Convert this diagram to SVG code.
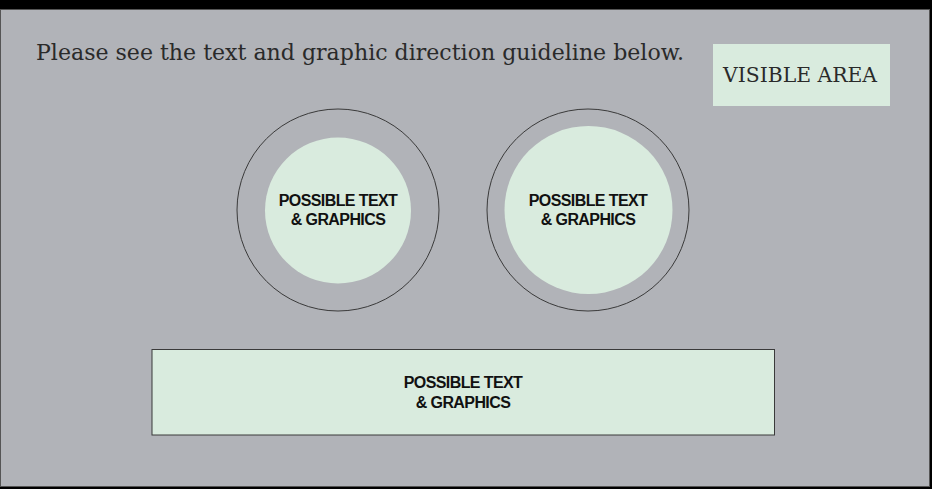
<svg xmlns="http://www.w3.org/2000/svg" width="932" height="489" viewBox="0 0 932 489">
<style>
.fill{fill:#d9ebde}
.ring{fill:none;stroke:#3a3a3a;stroke-width:1}
.lbl{font-family:"Liberation Sans",Arial,sans-serif;font-size:16px;font-weight:bold;fill:#111;text-anchor:middle;letter-spacing:-0.6px}
.slab{font-family:"DejaVu Serif","Liberation Serif",serif;fill:#2a2a2a}
</style>
<rect x="0" y="0" width="932" height="489" fill="#000"/>
<rect x="0.5" y="9.5" width="929" height="477" fill="#b1b3b8" stroke="#555" stroke-width="1"/>
<g id="title">
<text class="slab" x="36" y="60" font-size="22" textLength="648" lengthAdjust="spacingAndGlyphs">Please see the text and graphic direction guideline below.</text>
</g>
<g id="visible-area">
<rect class="fill" x="713" y="44" width="177" height="62"/>
<text class="slab" x="723" y="82" font-size="21" fill="#111" textLength="154" lengthAdjust="spacingAndGlyphs">VISIBLE AREA</text>
</g>
<g id="circle-left">
<circle class="ring" cx="338" cy="210" r="101"/>
<circle class="fill" cx="338" cy="210.5" r="73"/>
<text class="lbl" x="338" y="206">POSSIBLE TEXT</text>
<text class="lbl" x="338" y="225">&amp; GRAPHICS</text>
</g>
<g id="circle-right">
<circle class="ring" cx="588" cy="210" r="101"/>
<circle class="fill" cx="588.5" cy="210" r="84"/>
<text class="lbl" x="588" y="206">POSSIBLE TEXT</text>
<text class="lbl" x="588" y="225">&amp; GRAPHICS</text>
</g>
<g id="banner">
<rect class="fill" x="152" y="349.5" width="622.5" height="85.5" stroke="#3a3a3a" stroke-width="1"/>
<text class="lbl" x="463" y="388">POSSIBLE TEXT</text>
<text class="lbl" x="463" y="408">&amp; GRAPHICS</text>
</g>
<g id="connectors"/>
</svg>
